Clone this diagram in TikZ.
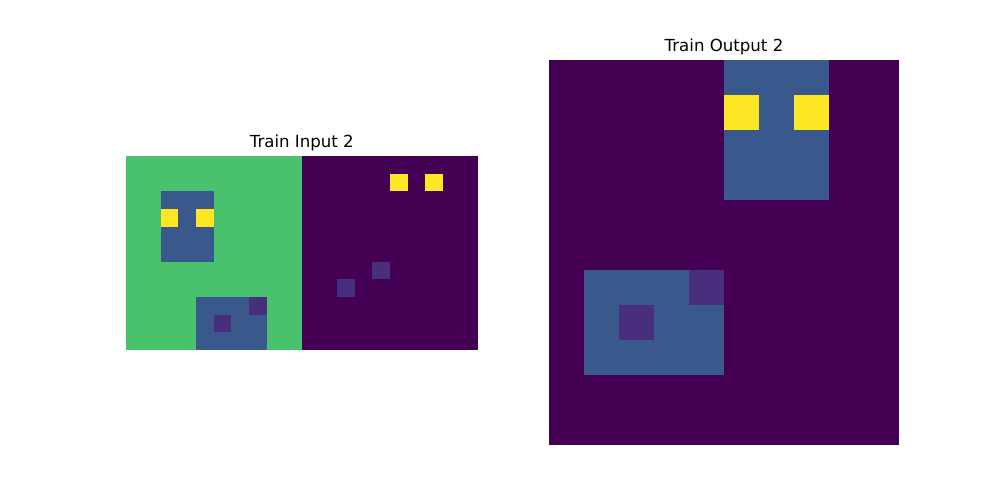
\documentclass[tikz,border=0pt]{standalone}
\usepackage{fontspec}
\setmainfont{DejaVu Sans}
\definecolor{vpurple}{HTML}{440154}
\definecolor{vlpurple}{HTML}{472F7D}
\definecolor{vblue}{HTML}{39598C}
\definecolor{vgreen}{HTML}{4AC16D}
\definecolor{vyellow}{HTML}{FDE725}
\tikzset{
  title/.style={anchor=base, font=\fontsize{12pt}{14pt}\selectfont, text=black, inner sep=0pt},
}
% left grid: origin (125.5,156), cell 17.63
\newcommand\lrect[5]{\fill[#5] ({125.5+#1*17.63},{156+#2*17.63}) rectangle ({125.5+#3*17.63},{156+#4*17.63});}
% right grid: origin (549,60), cell 35
\newcommand\rrect[5]{\fill[#5] ({549+#1*35},{60+#2*35}) rectangle ({549+#3*35},{60+#4*35});}
\begin{document}
\begin{tikzpicture}[x=0.72bp,y=-0.72bp]
\useasboundingbox[fill=white] (0,0) rectangle (1000,500);
% ---- Train Input 2 (20 x 11) ----
\lrect{0}{0}{10}{11}{vgreen}
\lrect{10}{0}{20}{11}{vpurple}
\lrect{2}{2}{5}{6}{vblue}
\lrect{2}{3}{3}{4}{vyellow}
\lrect{4}{3}{5}{4}{vyellow}
\lrect{4}{8}{8}{11}{vblue}
\lrect{5}{9}{6}{10}{vlpurple}
\lrect{7}{8}{8}{9}{vlpurple}
\lrect{15}{1}{16}{2}{vyellow}
\lrect{17}{1}{18}{2}{vyellow}
\lrect{14}{6}{15}{7}{vlpurple}
\lrect{12}{7}{13}{8}{vlpurple}
\node[title] (tin) at (301.8,147.7) {Train Input 2};
% ---- Train Output 2 (10 x 11) ----
\rrect{0}{0}{10}{11}{vpurple}
\rrect{5}{0}{8}{4}{vblue}
\rrect{5}{1}{6}{2}{vyellow}
\rrect{7}{1}{8}{2}{vyellow}
\rrect{1}{6}{5}{9}{vblue}
\rrect{4}{6}{5}{7}{vlpurple}
\rrect{2}{7}{3}{8}{vlpurple}
\node[title] (tout) at (724,51.7) {Train Output 2};
\end{tikzpicture}
\end{document}
